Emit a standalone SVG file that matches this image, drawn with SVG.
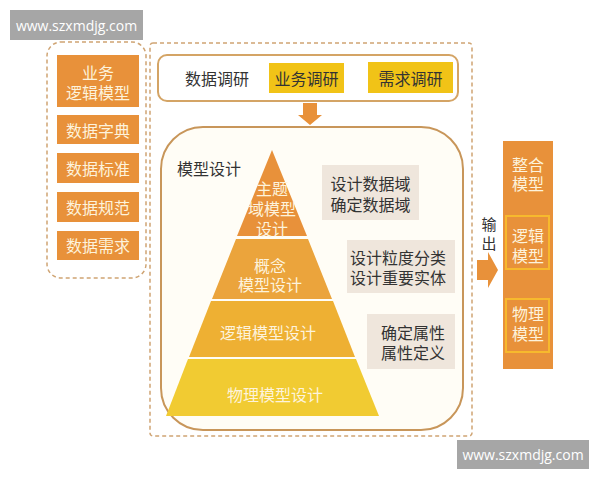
<svg xmlns="http://www.w3.org/2000/svg" width="600" height="480" viewBox="0 0 600 480">
<defs>
<style>
.t{font-family:"Noto Sans CJK SC","Noto Sans",sans-serif;font-size:16px;text-anchor:middle;dominant-baseline:central}
.w{fill:#fdf3dc}
.d{fill:#333333}
.ob{fill:#e8913a}
.bg{fill:#efe6dc}
.yb{fill:#f1c317}
.wm{fill:#a6a6a6}
.wmt{font-family:"Open Sans","DejaVu Sans",sans-serif;font-size:14px;fill:#ffffff;text-anchor:middle;dominant-baseline:central}
.dash{fill:none;stroke:#cfa473;stroke-width:1.5;stroke-dasharray:4 3}
</style>
</defs>
<rect width="600" height="480" fill="#ffffff"/>

<g id="left-group">
<rect class="dash" x="47" y="42" width="99" height="236" rx="14"/>
<g id="n-biz"><rect class="ob" x="57" y="55" width="82" height="52"/><text class="t w" x="98" y="72">业务</text><text class="t w" x="98" y="92">逻辑模型</text></g>
<g id="n-dict"><rect class="ob" x="57" y="115" width="82" height="29"/><text class="t w" x="98" y="130">数据字典</text></g>
<g id="n-std"><rect class="ob" x="57" y="153" width="82" height="30"/><text class="t w" x="98" y="168">数据标准</text></g>
<g id="n-spec"><rect class="ob" x="57" y="192" width="82" height="30"/><text class="t w" x="98" y="207">数据规范</text></g>
<g id="n-req"><rect class="ob" x="57" y="231" width="82" height="29"/><text class="t w" x="98" y="245">数据需求</text></g>
</g>

<g id="main-group">
<rect class="dash" x="150" y="43" width="322" height="393" rx="3"/>
<g id="n-research">
<rect x="158" y="55" width="300" height="46" rx="9" fill="#ffffff" stroke="#d4a465" stroke-width="2"/>
<text class="t d" x="217" y="78">数据调研</text>
<rect class="yb" x="269" y="63" width="75" height="30"/><text class="t d" x="306.5" y="78">业务调研</text>
<rect class="yb" x="368" y="62" width="85" height="31"/><text class="t d" x="410.5" y="78">需求调研</text>
</g>
<g id="n-design">
<rect x="161" y="127" width="302" height="303" rx="42" fill="#fffdf6" stroke="#c8965a" stroke-width="2"/>
<text class="t d" x="209" y="168">模型设计</text>
<g id="n-l1"><polygon points="272,150 307,236 237,236" fill="#e8913a"/><text class="t w" x="272" y="188">主题</text><text class="t w" x="272" y="208">域模型</text><text class="t w" x="272" y="228">设计</text></g>
<g id="n-l2"><polygon points="236,239 308,239 332,299 212,299" fill="#eba43c"/><text class="t w" x="270" y="265">概念</text><text class="t w" x="270" y="284">模型设计</text></g>
<g id="n-l3"><polygon points="211,301 333,301 355,357 189,357" fill="#eeb033"/><text class="t w" x="268" y="332">逻辑模型设计</text></g>
<g id="n-l4"><polygon points="188,359 356,359 379,416 166,416" fill="#f1cb32"/><text class="t w" x="275" y="394">物理模型设计</text></g>
<g id="n-n1"><rect class="bg" x="322" y="165" width="97" height="55"/><text class="t d" x="370.5" y="183">设计数据域</text><text class="t d" x="370.5" y="204">确定数据域</text></g>
<g id="n-n2"><rect class="bg" x="347" y="240" width="108" height="53"/><text class="t d" x="398" y="257">设计粒度分类</text><text class="t d" x="398" y="277">设计重要实体</text></g>
<g id="n-n3"><rect class="bg" x="367" y="314" width="88" height="55"/><text class="t d" x="413" y="332">确定属性</text><text class="t d" x="413" y="352">属性定义</text></g>
</g>
</g>

<g id="n-output">
<rect class="ob" x="503" y="141" width="50" height="228"/>
<text class="t w" x="528" y="164">整合</text><text class="t w" x="528" y="183">模型</text>
<rect x="506" y="216" width="43" height="53" fill="none" stroke="#f7b92d" stroke-width="2"/>
<text class="t w" x="528" y="235">逻辑</text><text class="t w" x="528" y="255">模型</text>
<rect x="506" y="299" width="43" height="53" fill="none" stroke="#f7b92d" stroke-width="2"/>
<text class="t w" x="528" y="313">物理</text><text class="t w" x="528" y="333">模型</text>
</g>

<g id="connectors">
<polygon points="303,103 317,103 317,115 322,115 310,125 298,115 303,115" fill="#e8913a"/>
<polygon points="477,260 488,260 488,252 498,270 488,288 488,280 477,280" fill="#e8913a"/>
<text class="t d" x="489" y="223" style="font-size:15px">输</text>
<text class="t d" x="489" y="242" style="font-size:15px">出</text>
</g>

<g id="watermarks">
<rect class="wm" x="10" y="10" width="133" height="30"/><text class="wmt" x="76.5" y="25">www.szxmdjg.com</text>
<rect class="wm" x="457" y="440" width="132" height="29"/><text class="wmt" x="523" y="454.5">www.szxmdjg.com</text>
</g>
</svg>
